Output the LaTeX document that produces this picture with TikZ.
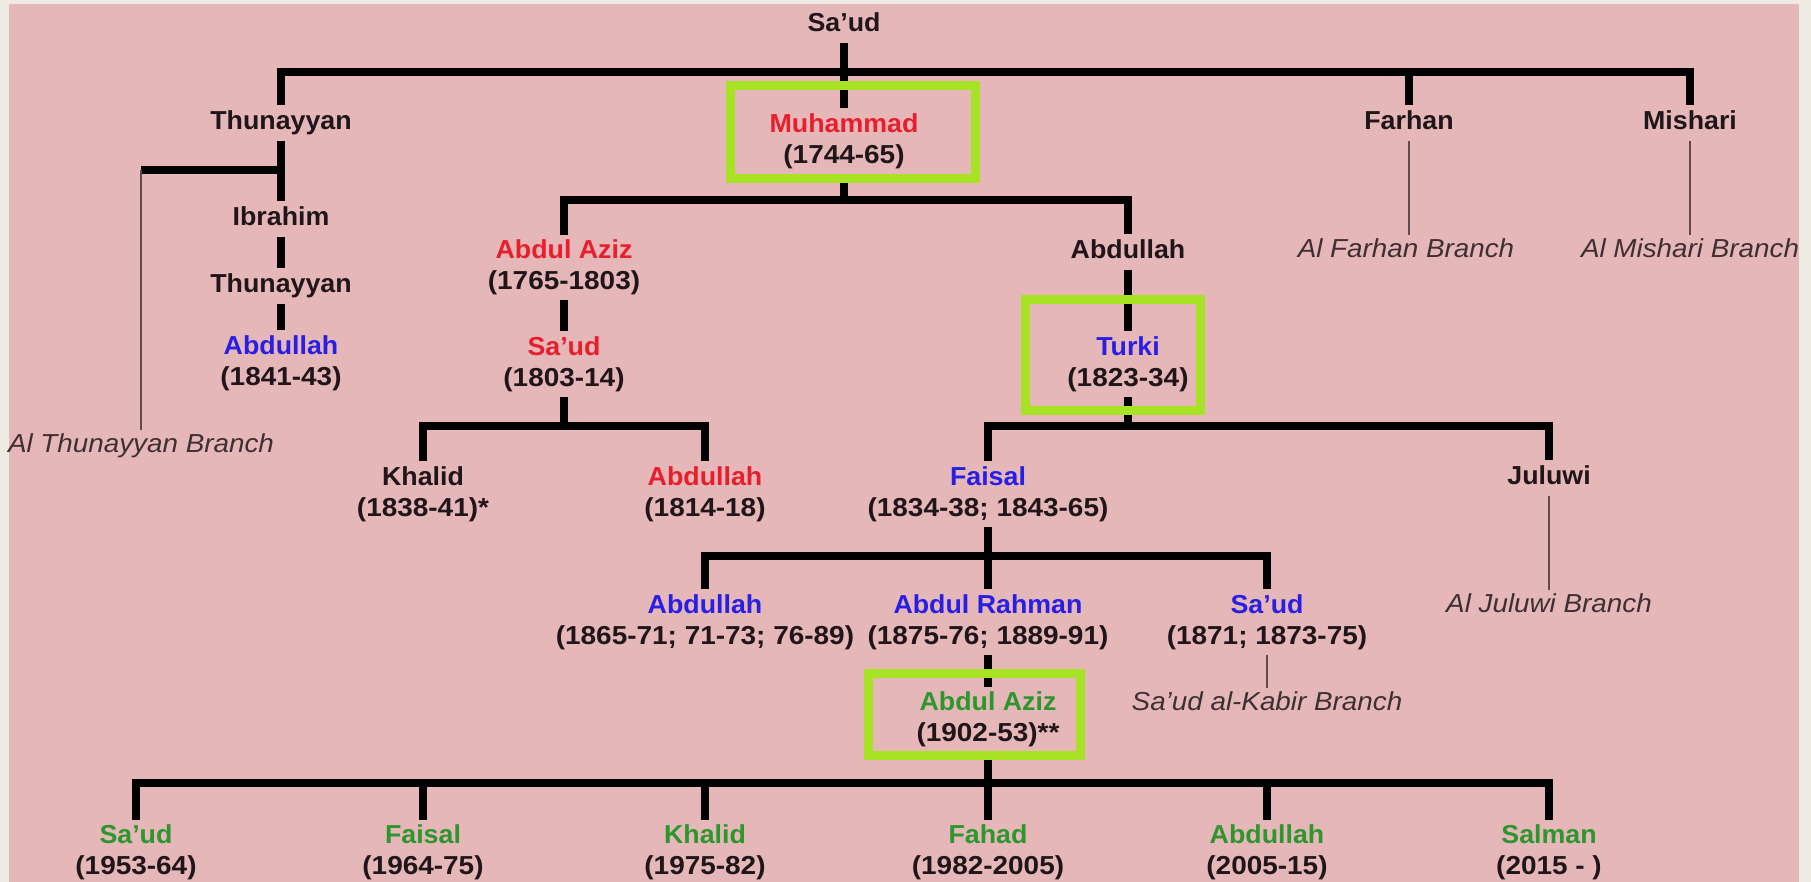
\documentclass[tikz,border=0pt]{standalone}
\usepackage{fontspec}
\setmainfont{Liberation Sans}
\newfontfamily\namefont{Liberation Sans}[Ligatures=TeX,FakeStretch=1.03]
\newfontfamily\datefont{Liberation Sans}[Ligatures=TeX,FakeStretch=1.075]
\newfontfamily\brfont{Liberation Sans}[Ligatures=TeX,FakeStretch=1.07]
\newcommand\kperson[3]{\textcolor{#1}{#2}\\{\datefont\bfseries #3}}
\definecolor{bgpink}{RGB}{229,183,185}
\definecolor{offw}{RGB}{238,235,226}
\definecolor{kred}{RGB}{232,30,45}
\definecolor{kblue}{RGB}{40,30,228}
\definecolor{kgreen}{RGB}{45,150,45}
\definecolor{ink}{RGB}{32,22,25}
\definecolor{brink}{RGB}{62,48,50}
\definecolor{limeg}{RGB}{168,226,36}
\definecolor{thinc}{RGB}{95,75,78}
\pgfdeclarelayer{background}
\pgfsetlayers{background,main}
\begin{document}
\begin{tikzpicture}[x=1pt,y=-1pt,
  person/.style={font=\fontsize{26}{31}\selectfont\namefont\bfseries, text=ink, align=center, fill=bgpink, inner xsep=4pt, inner ysep=5pt},
  single/.style={person, text height=19pt, text depth=6pt},
  branchlbl/.style={font=\fontsize{26}{31}\selectfont\brfont\itshape, text=brink, inner sep=3pt, text height=19pt, text depth=6pt},
  famline/.style={line width=8pt, draw=black},
  thinline/.style={line width=2pt, draw=thinc},
  crown/.style={line width=9pt, draw=limeg}]
\useasboundingbox (0,0) rectangle (1811,882);
% ---------- people ----------
\node[single] (saud0) at (844,25) {Sa'ud};
\node[single] (thun1) at (281,123) {Thunayyan};
\node[person] (muh) at (844,141) {\kperson{kred}{Muhammad}{(1744-65)}};
\node[single] (farhan) at (1409,123) {Farhan};
\node[single] (mish) at (1690,123) {Mishari};
\node[branchlbl] (farbr) at (1406,251) {Al Farhan Branch};
\node[branchlbl] (misbr) at (1690,251) {Al Mishari Branch};
\node[single] (ibra) at (281,219) {Ibrahim};
\node[single] (thun2) at (281,286) {Thunayyan};
\node[person] (abd1) at (281,363) {\kperson{kblue}{Abdullah}{(1841-43)}};
\node[branchlbl] (thbr) at (141,446) {Al Thunayyan Branch};
\coordinate (thcorner) at (141,170);
\node[person] (aaz) at (564,267.5) {\kperson{kred}{Abdul Aziz}{(1765-1803)}};
\node[person] (saudr) at (564,364) {\kperson{kred}{Sa'ud}{(1803-14)}};
\node[person] (khalid) at (423,494) {\kperson{ink}{Khalid}{(1838-41)*}};
\node[person] (abdr) at (705,494) {\kperson{kred}{Abdullah}{(1814-18)}};
\node[single] (abdk) at (1128,252) {Abdullah};
\node[person] (turki) at (1128,364) {\kperson{kblue}{Turki}{(1823-34)}};
\node[person] (faisal) at (988,494) {\kperson{kblue}{Faisal}{(1834-38; 1843-65)}};
\node[single] (juluwi) at (1549,478) {Juluwi};
\node[branchlbl] (julbr) at (1549,606) {Al Juluwi Branch};
\node[person] (abd2) at (705,622) {\kperson{kblue}{Abdullah}{(1865-71; 71-73; 76-89)}};
\node[person] (rahman) at (988,622) {\kperson{kblue}{Abdul Rahman}{(1875-76; 1889-91)}};
\node[person] (saud3) at (1267,622) {\kperson{kblue}{Sa'ud}{(1871; 1873-75)}};
\node[branchlbl] (kabir) at (1267,704) {Sa'ud al-Kabir Branch};
\node[person] (aziz) at (988,719.5) {\kperson{kgreen}{Abdul Aziz}{(1902-53)**}};
\node[person] (k1) at (136,852.5) {\kperson{kgreen}{Sa'ud}{(1953-64)}};
\node[person] (k2) at (423,852.5) {\kperson{kgreen}{Faisal}{(1964-75)}};
\node[person] (k3) at (705,852.5) {\kperson{kgreen}{Khalid}{(1975-82)}};
\node[person] (k4) at (988,852.5) {\kperson{kgreen}{Fahad}{(1982-2005)}};
\node[person] (k5) at (1267,852.5) {\kperson{kgreen}{Abdullah}{(2005-15)}};
\node[person] (k6) at (1549,852.5) {\kperson{kgreen}{Salman}{(2015 - )}};
% ---------- bar levels ----------
\coordinate (b0) at (0,72);
\coordinate (b1) at (0,200);
\coordinate (b2) at (0,426);
\coordinate (b3) at (0,556);
\coordinate (b4) at (0,783);
% ---------- background and connectors ----------
\begin{pgfonlayer}{background}
\fill[offw] (0,0) rectangle (1811,882);
\fill[bgpink] (9,4) rectangle (1799,882);
% Sa'ud's sons
\draw[famline] (saud0) -- (muh) -- (muh |- b1);
\draw[famline] (thun1) -- (thun1 |- b0) -- (mish |- b0) -- (mish);
\draw[famline] (farhan) -- (farhan |- b0);
\draw[thinline] (farhan) -- (farhan |- farbr.north);
\draw[thinline] (mish) -- (misbr.north);
% Thunayyan line
\draw[famline] (thun1) -- (ibra) -- (thun2) -- (abd1);
\draw[famline] (thun1 |- thcorner) -- (thcorner);
\draw[thinline] (thcorner) -- (thbr.north);
% Muhammad's sons
\draw[famline] (aaz) -- (aaz |- b1) -- (abdk |- b1) -- (abdk);
\draw[famline] (aaz) -- (saudr) -- (saudr |- b2);
\draw[famline] (khalid) -- (khalid |- b2) -- (abdr |- b2) -- (abdr);
\draw[famline] (abdk) -- (turki) -- (turki |- b2);
\draw[famline] (faisal) -- (faisal |- b2) -- (juluwi |- b2) -- (juluwi);
\draw[thinline] (juluwi) -- (julbr.north);
% Faisal's sons
\draw[famline] (faisal) -- (rahman);
\draw[famline] (abd2) -- (abd2 |- b3) -- (saud3 |- b3) -- (saud3);
\draw[thinline] (saud3) -- (kabir.north);
% Abdul Aziz
\draw[famline] (rahman) -- (aziz) -- (k4);
\draw[famline] (k1) -- (k1 |- b4) -- (k6 |- b4) -- (k6);
\draw[famline] (k2) -- (k2 |- b4);
\draw[famline] (k3) -- (k3 |- b4);
\draw[famline] (k5) -- (k5 |- b4);
\end{pgfonlayer}
% ---------- highlighted rulers ----------
\draw[crown] ([shift={(-114,-55)}]muh.center) rectangle ([shift={(131,38)}]muh.center);
\draw[crown] ([shift={(-103,-64)}]turki.center) rectangle ([shift={(72,46)}]turki.center);
\draw[crown] ([shift={(-120,-46.5)}]aziz.center) rectangle ([shift={(92,35.5)}]aziz.center);
\end{tikzpicture}
\end{document}
